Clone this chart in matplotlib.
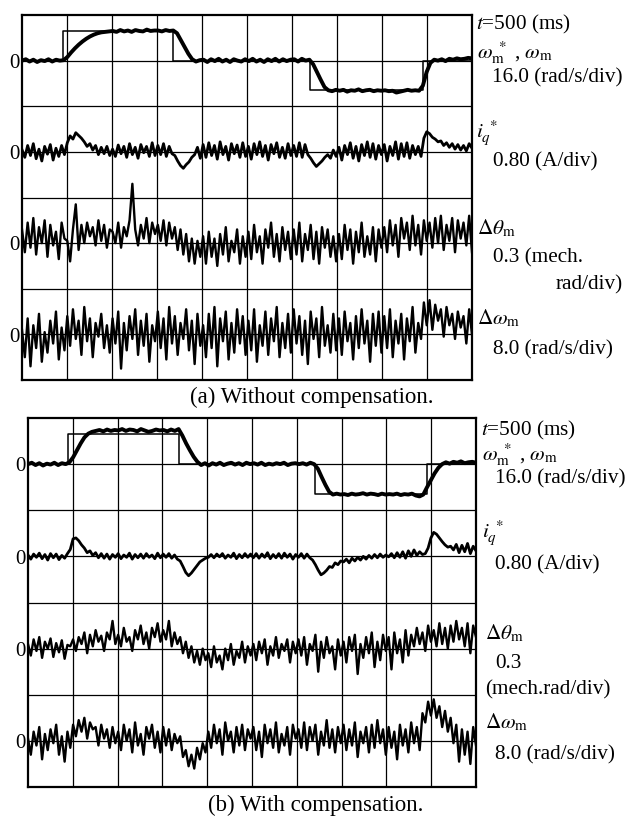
import numpy as np
import matplotlib.pyplot as plt

plt.rcParams['font.family'] = 'Liberation Serif'
plt.rcParams['mathtext.fontset'] = 'stix'

# time axis in divisions (500 ms/div), trace values in hundredths of a division
ref_t = [0, 0.9, 3.36, 6.4, 8.9, 10]
ref_level = [0, 65, 0, -65, 0]

# (a) without compensation
a_speed = [
    0, 3, -2, 2, -3, 1, -1, 3, -2, 2, 0, 1,
    8, 18, 27, 35, 42, 48, 53, 57, 60, 62, 63, 64,
    65, 63, 67, 64, 66, 63, 67, 65, 64, 68, 65, 66,
    66, 64, 67, 65, 66, 60, 45, 30, 15, 3, -2, 1,
    2, -3, 3, -1, 4, -2, 2, -3, 3, 0, -2, 3,
    -1, 4, -2, 2, -3, 3, -1, 4, -2, 3, -1, 2,
    3, -2, 4, 0, 2, -8, -25, -42, -58, -65, -67, -64,
    -66, -64, -68, -65, -66, -63, -67, -65, -64, -67, -65, -66,
    -65, -67, -66, -70, -68, -66, -64, -66, -65, -66, -55, -25,
    -5, 2, 0, 3, -1, 4, 2, 5, 3, 4, 6, 5]
a_iq = [
    5, -12, 14, -8, 18, -15, 6, -20, 12, -5, 16, -18, 8, -10, 14, -6,
    20, 35, 28, 42, 36, 30, 22, 12, 18, 4, 14, -6, 10, -4, 12, -8,
    6, -10, 15, -4, 12, -12, 18, -6, 10, -14, 16, -2, 12, -10, 20, -8,
    14, -6, 18, -10, 12, -4, -8, -20, -30, -36, -28, -22, -12, -6, 10, -14,
    16, -12, 20, -8, 14, -16, 22, -6, 12, -18, 18, -4, 15, -12, 20, -10,
    12, -16, 18, -6, 22, -10, 14, -18, 16, -4, 20, -12, 10, -14, 18, -8,
    14, -10, 20, -12, 16, -6, -14, -24, -32, -26, -20, -12, -6, -14, 4, -10,
    10, -18, 14, -6, 20, -14, 12, -20, 16, -8, 22, -12, 18, -16, 14, -6,
    16, -20, 12, -8, 22, -16, 18, -10, 20, -14, 14, -6, 12, -10, 30, 44,
    40, 32, 28, 22, 24, 14, 20, 10, 18, 6, 16, 4, 14, 2, 18, 8]
a_dtheta = [
    30, -20, 45, -10, 55, -25, 35, 0, 50, -30, 40, -5, 25, -35, 45, 10,
    5, -40, 30, 85, -15, 40, 0, 45, 15, 35, -5, 50, 5, 40, -10, 30,
    25, 0, 45, -10, 35, 15, 50, 130, 30, -5, 40, 10, 55, 0, 45, 20,
    40, 5, 50, -5, 45, 10, 35, -15, 30, -25, 20, -40, 10, -45, 5, -30,
    15, -45, 25, -30, 10, -50, 20, -25, 35, -40, 5, -20, 30, -45, 15, -30,
    25, -35, 40, -20, 15, -45, 30, -10, 45, -30, 20, -40, 35, -15, 25, -35,
    30, -25, 45, -40, 20, -15, 40, -35, 25, -45, 35, -10, 30, -30, 15, -40,
    20, -35, 40, -15, 30, -45, 25, -20, 45, -30, 15, -25, 35, -40, 30, -10,
    35, -20, 50, -5, 40, -30, 55, 10, 45, -15, 60, -5, 40, -25, 50, 5,
    45, -10, 55, 0, 60, -15, 40, 5, 55, -20, 50, 10, 45, -5, 60, -20]
a_domega = [
    10, -50, 35, -70, 20, -30, 45, -60, 5, -40, 30, -20, 50, -55, 15, -35,
    40, -25, 55, -10, 30, -45, 60, -15, 35, -50, 25, -5, 45, -30, 20, -40,
    35, -20, 50, -75, 25, -35, 40, -10, 55, -45, 30, -25, 45, -60, 20, -15,
    50, -30, 35, -55, 60, -20, 40, -45, 25, -10, 55, -35, 30, -65, 45, -25,
    20, -50, 45, -30, 60, -70, 35, -15, 50, -55, 25, -40, 55, -20, 40, -45,
    30, -35, 55, -60, 20, -25, 50, -45, 35, -15, 60, -50, 25, -30, 45, -40,
    55, -20, 40, -45, 30, -65, 50, -10, 35, -50, 60, -25, 20, -40, 45, -35,
    35, -45, 50, -15, 25, -55, 40, -30, 55, -20, 30, -60, 45, -25, 50, -40,
    40, -30, 55, -50, 30, -20, 45, -55, 35, -15, 60, -40, 25, -10, 70, 20,
    75, 10, 65, 30, 55, -5, 60, 20, 45, -10, 50, 15, 40, -20, 55, 0]

# (b) with compensation
b_speed = [
    0, 3, -2, 2, -3, 1, -1, 3, -2, 2, 0, 4,
    15, 30, 45, 58, 66, 70, 72, 74, 71, 75, 72, 74,
    73, 76, 72, 75, 74, 71, 76, 73, 70, 72, 75, 73,
    74, 71, 75, 72, 76, 62, 45, 30, 16, 5, -2, 2,
    -3, 2, -1, 3, -2, 1, 3, -1, 2, -2, 3, 0,
    2, -1, 3, -2, 1, -1, 2, 0, 3, -2, 1, 2,
    0, 2, -1, 3, 0, -10, -28, -45, -60, -66, -64, -66,
    -65, -67, -64, -66, -65, -63, -66, -64, -65, -67, -64, -66,
    -65, -66, -64, -67, -65, -66, -64, -68, -70, -66, -50, -35,
    -20, -8, 0, 4, 1, 5, 3, 6, 2, 4, 5, 3]
b_iq = [
    3, -6, 5, -2, 7, -5, 4, -8, 6, -3, 5, -7, 2, -4, 6, 15,
    38, 40, 34, 25, 18, 8, 12, 2, 8, -3, 6, -4, 5, -6, 4, -2,
    6, -5, 3, -2, 7, -6, 4, -3, 5, -4, 6, -2, 3, -5, 7, -3,
    5, -2, 6, -4, 3, -6, -10, -22, -35, -42, -36, -28, -20, -12, -8, -4,
    -2, 4, -3, 5, -1, 6, -4, 3, -2, 7, -5, 4, -3, 6, -2, 5,
    -3, 6, -4, 5, -2, 8, -5, 4, -3, 6, -4, 7, -2, 5, -6, 4,
    -2, 6, -4, 5, -3, -8, -18, -30, -40, -36, -30, -22, -24, -14, -18, -10,
    -12, -6, -14, -4, -10, -2, -8, 0, -6, 2, -4, 4, -3, 5, -2, 3,
    -1, 6, -3, 8, -2, 10, -4, 12, 0, 14, 2, 10, 4, 6, 18, 40,
    52, 48, 40, 32, 25, 20, 22, 14, 26, 8, 24, 10, 28, 6, 22, 12]
b_dtheta = [
    10, -15, 20, -5, 25, -20, 15, 0, 22, -18, 12, -8, 18, -22, 8, 5,
    20, -5, 25, 10, 35, -10, 30, 5, 40, 15, 28, -5, 35, 20, 60, 10,
    30, 5, 45, 15, 25, -5, 40, 20, 50, 10, 35, 0, 45, 25, 55, 15,
    40, 20, 60, 5, 35, 10, 25, -10, 15, -20, 5, -30, -5, -35, 0, -25,
    -10, -40, 5, -30, -15, -45, 0, -25, 10, -35, -5, -20, 15, -30, 5, -15,
    10, -25, 15, -10, 20, -35, 5, -15, 25, -20, 10, -5, 20, -30, 15, -10,
    20, -15, 25, -35, 10, -5, 30, -50, 15, -20, 25, -10, 5, -45, 20, -15,
    15, -30, 25, -5, 30, -55, 10, -20, 25, -10, 35, -40, 15, -25, 30, -5,
    25, -45, 35, -10, 20, -30, 40, -15, 30, 5, 45, 10, 35, -5, 50, 15,
    40, 5, 55, 10, 45, 0, 50, 15, 60, 20, 45, 5, 55, -10, 50, 25]
b_domega = [
    5, -30, 20, -10, 30, -40, 15, -20, 25, -5, 35, -30, 10, -45, 20, -15,
    35, 10, 45, 20, 50, 5, 40, 25, 30, -10, 35, 5, 25, -15, 30, -5,
    20, -20, 35, 0, 25, -25, 40, -10, 15, -30, 30, 5, 35, -15, 20, -25,
    30, -10, 25, -20, 15, -5, 10, -35, -20, -55, -30, -60, -15, -40, -5, -25,
    20, -15, 35, -5, 25, -30, 40, 0, 20, -25, 30, -10, 35, -20, 25, 5,
    30, -20, 20, -35, 35, -5, 25, -15, 40, -25, 15, -10, 30, -30, 35, 5,
    25, -15, 40, -20, 30, 0, 35, -30, 20, -10, 45, -15, 25, -25, 30, -5,
    35, -20, 25, -10, 40, -35, 20, -5, 30, -25, 35, -15, 45, -5, 25, -30,
    30, -15, 20, -40, 35, -10, 25, -25, 40, -5, 30, -20, 60, 40, 85, 55,
    90, 50, 75, 30, 65, 20, 50, -5, 35, -45, 25, -30, 20, -50, 30, -10]

W, H = 629, 818
fig = plt.figure(figsize=(W / 100, H / 100), dpi=100)


def px_axes(left, top, right, bottom):
    return fig.add_axes([left / W, 1 - bottom / H, (right - left) / W, (bottom - top) / H])


def draw_panel(ax, speed, iq, dtheta, domega):
    ax.set_xlim(0, 10)
    ax.set_ylim(0, 8)
    for x in range(1, 10):
        ax.axvline(x, color='black', lw=0.9)
    for y in range(1, 8):
        ax.axhline(y, color='black', lw=0.9)
    for s in ax.spines.values():
        s.set_linewidth(1.6)
    ax.set_xticks([])
    ax.set_yticks([])

    ref = np.array(ref_level + [0]) / 100 + 7
    ax.step(ref_t, ref, where='post', color='black', lw=1.1)

    traces = [(speed, 7, 2.8), (iq, 5, 2.0), (dtheta, 3, 1.7), (domega, 1, 1.7)]
    for vals, off, lw in traces:
        t = np.linspace(0, 10, len(vals))
        ax.plot(t, np.array(vals) / 100 + off, color='black', lw=lw)
        ax.annotate('0', xy=(0, off), xytext=(-2, -2), textcoords='offset points',
                    ha='right', va='center', fontsize=15, annotation_clip=False)


def label(x, y, s, ha='left', size=15.3):
    fig.text(x / W, 1 - y / H, s, ha=ha, va='center', fontsize=size)


ax_a = px_axes(22, 15, 472, 380)
draw_panel(ax_a, a_speed, a_iq, a_dtheta, a_domega)
ax_b = px_axes(28, 418, 476, 787)
draw_panel(ax_b, b_speed, b_iq, b_dtheta, b_domega)

speed_lbl = r'$\omega_{\rm m}^{\ *}$ , $\omega_{\rm m}$'
iq_lbl = r'$i_{q}^{\ *}$'
dth_lbl = r'$\mathit{\Delta\theta}_{\rm m}$'
dom_lbl = r'$\mathit{\Delta\omega}_{\rm m}$'

# labels of (a)
label(476, 24, r'$t$=500 (ms)')
label(477, 53, speed_lbl)
label(492, 78, '16.0 (rad/s/div)')
label(476, 134, iq_lbl)
label(493, 162, '0.80 (A/div)')
label(477, 228, dth_lbl)
label(493, 258, '0.3 (mech.')
label(623, 285, 'rad/div)', ha='right')
label(477, 318, dom_lbl)
label(493, 350, '8.0 (rad/s/div)')
label(312, 397, '(a) Without compensation.', ha='center', size=16.5)

# labels of (b)
label(481, 430, r'$t$=500 (ms)')
label(482, 455, speed_lbl)
label(495, 479, '16.0 (rad/s/div)')
label(482, 534, iq_lbl)
label(495, 565, '0.80 (A/div)')
label(485, 633, dth_lbl)
label(495, 664, '0.3')
label(485, 690, '(mech.rad/div)')
label(485, 722, dom_lbl)
label(495, 755, '8.0 (rad/s/div)')
label(316, 805, '(b) With compensation.', ha='center', size=16.5)

fig.savefig('out.png', dpi=100)
